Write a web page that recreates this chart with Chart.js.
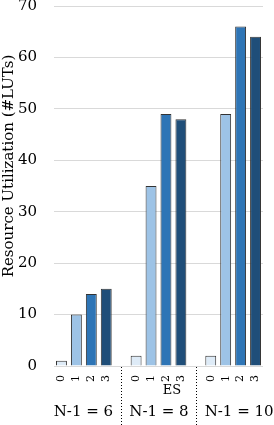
<!DOCTYPE html>
<html><head><meta charset="utf-8">
<script src="https://cdn.jsdelivr.net/npm/chart.js@4/dist/chart.umd.min.js"></script>
<style>html,body{margin:0;padding:0;background:#fff}#wrap{width:274px;height:425px;position:relative}</style>
</head><body><div id="wrap"><canvas id="c" width="274" height="425"></canvas></div>
<script>
const groupLabels = ['N-1 = 6', 'N-1 = 8', 'N-1 = 10'];
const levels = ['0', '1', '2', '3'];
const n6 = [1, 10, 14, 15];
const n8 = [2, 35, 49, 48];
const n10 = [2, 49, 66, 64];
const levelColors = ['#DEEBF7', '#9DC3E6', '#2E75B6', '#1F4E79'];
const yTicks = [0, 10, 20, 30, 40, 50, 60, 70];
const yTitle = 'Resource Utilization (#LUTs)';
const middleNote = 'ES';

const series = [n6, n8, n10];
const labels = [], values = [], colors = [];
series.forEach((s, g) => {
  s.forEach((v, i) => { labels.push(levels[i]); values.push(v); colors.push(levelColors[i]); });
  if (g < series.length - 1) { labels.push(''); values.push(null); colors.push('rgba(0,0,0,0)'); }
});

const FONT = 'DejaVu Serif';

const decor = {
  id: 'decor',
  afterDraw(chart) {
    const ctx = chart.ctx, x = chart.scales.x, area = chart.chartArea;
    const H = chart.height;
    ctx.save();
    ctx.strokeStyle = '#000'; ctx.lineWidth = 1; ctx.setLineDash([1, 2]);
    labels.forEach((l, i) => {
      if (l === '') {
        const px = Math.round(x.getPixelForValue(i)) + 0.5;
        ctx.beginPath(); ctx.moveTo(px, area.bottom + 1); ctx.lineTo(px, H); ctx.stroke();
      }
    });
    ctx.setLineDash([]);
    ctx.fillStyle = '#000';
    ctx.textAlign = 'center'; ctx.textBaseline = 'middle';
    ctx.font = '15px "' + FONT + '"';
    const centers = [1.47, 6.53, 11.9];
    groupLabels.forEach((t, g) => ctx.fillText(t, x.getPixelForValue(centers[g]), 412));
    ctx.font = '13px "' + FONT + '"';
    ctx.fillText(middleNote, x.getPixelForValue(7.4), 391);
    ctx.font = '15px "' + FONT + '"';
    ctx.translate(9, 166); ctx.rotate(-Math.PI / 2);
    ctx.fillText(yTitle, 0, 0);
    ctx.restore();
  }
};

new Chart(document.getElementById('c'), {
  type: 'bar',
  data: { labels, datasets: [{ data: values, backgroundColor: colors, borderColor: '#333', borderWidth: 1,
    barPercentage: 0.73, categoryPercentage: 1 }] },
  options: {
    responsive: false, animation: false, devicePixelRatio: 1,
    layout: { padding: { top: 6, right: 11, bottom: 0, left: 0 } },
    plugins: { legend: { display: false }, tooltip: { enabled: false } },
    scales: {
      x: {
        grid: { display: false, drawTicks: false }, border: { display: false },
        ticks: { color: '#000', font: { family: FONT, size: 11 }, minRotation: 90, maxRotation: 90, autoSkip: false, padding: 9 },
        afterFit(s) { s.height = 59; s.paddingLeft = 0; s.paddingRight = 0; }
      },
      y: {
        min: 0, max: 70,
        afterBuildTicks(s) { s.ticks = yTicks.map(v => ({ value: v })); },
        grid: { color: '#D9D9D9', lineWidth: 1, drawTicks: false }, border: { display: false },
        ticks: { color: '#000', font: { family: FONT, size: 15 }, padding: 17 },
        afterFit(s) { s.width = 54; s.paddingTop = 0; s.paddingBottom = 0; }
      }
    }
  },
  plugins: [decor]
});
</script></body></html>
